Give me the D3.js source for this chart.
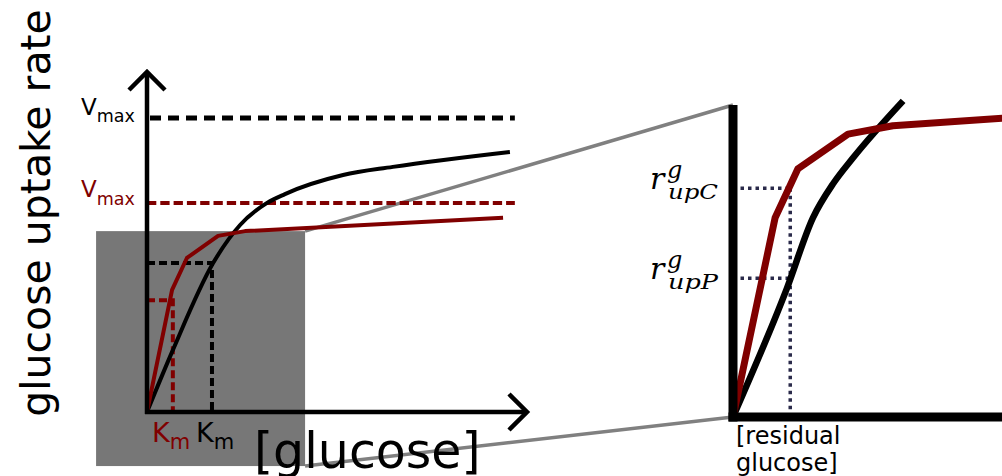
<!DOCTYPE html>
<html><head><meta charset="utf-8">
<script src="https://cdn.jsdelivr.net/npm/d3@7"></script>
<style>body{margin:0;background:#fff}svg{display:block}</style>
</head><body>
<svg id="c" width="1002" height="476"></svg>
<script>
// ---- Left panel (arbitrary units) ----
const leftBlackX = [0, 0.68, 1.74, 2.45, 3.16, 3.63, 5.16, 6.47, 9.55];
const leftBlackY = [0, 1.82, 4.38, 5.50, 6.15, 6.41, 6.97, 7.21, 7.65];
const leftRedX = [0, 0.66, 1.05, 1.87, 2.58, 9.37];
const leftRedY = [0, 3.59, 4.53, 5.18, 5.32, 5.71];
const vmaxValues = [8.65, 6.15];          // black, red
const vmaxEnd = 9.68;
const kmValues = [1.71, 0.68];            // black, red
const halfVmax = [4.38, 3.29];            // black, red
const zoomX = [-1.34, 4.16];
const zoomY = [-1.59, 5.32];
// ---- Right panel (zoom) ----
const rightBlackX = [0, 1.0, 1.48, 1.85, 2.22, 3.15];
const rightBlackY = [0, 2.48, 3.83, 4.48, 4.98, 6.08];
const rightRedX = [0, 0.78, 1.2, 2.13, 2.96, 5.05];
const rightRedY = [0, 3.83, 4.77, 5.44, 5.6, 5.75];
const residual = 1.06;
const rupValues = [4.40, 2.67];           // upC, upP
const rupLabels = ["upC", "upP"];

const RED = "#800000";
const svg = d3.select("#c");

const xL = d3.scaleLinear().domain([0, 10]).range([147, 527]);
const yL = d3.scaleLinear().domain([0, 10]).range([412, 72]);
const xR = d3.scaleLinear().domain([0, 5]).range([733, 1003]);
const yR = d3.scaleLinear().domain([0, 6]).range([417, 105]);

const lineL = d3.line().x(d => xL(d[0])).y(d => yL(d[1]));
const lineR = d3.line().x(d => xR(d[0])).y(d => yR(d[1]));
const smoothL = d3.line().x(d => xL(d[0])).y(d => yL(d[1])).curve(d3.curveMonotoneX);
const smoothR = d3.line().x(d => xR(d[0])).y(d => yR(d[1])).curve(d3.curveMonotoneX);

// zoom rectangle
svg.append("rect")
  .attr("x", xL(zoomX[0])).attr("y", yL(zoomY[1]))
  .attr("width", xL(zoomX[1]) - xL(zoomX[0]))
  .attr("height", yL(zoomY[0]) - yL(zoomY[1]))
  .attr("fill", "#777777");

// connector lines
svg.append("path")
  .attr("d", d3.line()([[xL(zoomX[1]), yL(zoomY[1])], [xR(0), yR(6)]]))
  .attr("stroke", "#808080").attr("stroke-width", 3.5).attr("fill", "none");
svg.append("path")
  .attr("d", d3.line()([[xL(zoomX[1]), yL(zoomY[0])], [xR(0), yR(0)]]))
  .attr("stroke", "#808080").attr("stroke-width", 3.5).attr("fill", "none");

// Vmax dashed lines
svg.append("line").attr("x1", xL(0) + 3).attr("x2", xL(vmaxEnd))
  .attr("y1", yL(vmaxValues[0])).attr("y2", yL(vmaxValues[0]))
  .attr("stroke", "#000").attr("stroke-width", 5).attr("stroke-dasharray", "11,7");
svg.append("line").attr("x1", xL(0)).attr("x2", xL(vmaxEnd))
  .attr("y1", yL(vmaxValues[1])).attr("y2", yL(vmaxValues[1]))
  .attr("stroke", RED).attr("stroke-width", 4).attr("stroke-dasharray", "9.3,4");

// Km dashed guides
[[kmValues[0], halfVmax[0], "#000"], [kmValues[1], halfVmax[1], RED]].forEach(([k, h, c]) => {
  svg.append("path")
    .attr("d", lineL([[0, h], [k, h], [k, 0]]))
    .attr("stroke", c).attr("stroke-width", 4).attr("fill", "none")
    .attr("stroke-dasharray", "8,4");
});

// left curves
svg.append("path").attr("d", smoothL(d3.zip(leftBlackX, leftBlackY)))
  .attr("stroke", "#000").attr("stroke-width", 4).attr("fill", "none").attr("stroke-linejoin", "round");
svg.append("path").attr("d", lineL(d3.zip(leftRedX, leftRedY)))
  .attr("stroke", RED).attr("stroke-width", 4).attr("fill", "none").attr("stroke-linejoin", "round");

// left axes with arrowheads
const ax = svg.append("g").attr("stroke", "#000").attr("stroke-width", 4.5).attr("fill", "none");
ax.append("line").attr("x1", xL(0)).attr("x2", xL(0)).attr("y1", yL(0) + 2).attr("y2", yL(10));
ax.append("line").attr("x1", xL(0) - 2).attr("x2", xL(10)).attr("y1", yL(0)).attr("y2", yL(0));
ax.append("path").attr("d", d3.line()([[xL(0) - 18, yL(10) + 18], [xL(0), yL(10)], [xL(0) + 18, yL(10) + 18]]));
ax.append("path").attr("d", d3.line()([[xL(10) - 18, yL(0) - 18], [xL(10), yL(0)], [xL(10) - 18, yL(0) + 18]]));

// left labels
const font = "DejaVu Sans, sans-serif";
function sub(x, y, main, s, color, fs, ss, dy) {
  const t = svg.append("text").attr("x", x).attr("y", y).attr("fill", color)
    .attr("font-family", font).attr("font-size", fs);
  t.append("tspan").text(main);
  t.append("tspan").attr("font-size", ss).attr("dy", dy).text(s);
  return t;
}
sub(81, yL(vmaxValues[0]) - 3, "V", "max", "#000", 23, 17.5, 7);
sub(81, yL(vmaxValues[1]) - 6, "V", "max", RED, 23, 17.5, 8);
sub(152, 442, "K", "m", RED, 27, 21, 7);
sub(196, 442, "K", "m", "#000", 27, 21, 7);

svg.append("text").attr("x", 254).attr("y", 468)
  .attr("font-family", font).attr("font-size", 49).attr("fill", "#000").text("[glucose]");
svg.append("text").attr("transform", "translate(50,213) rotate(-90)")
  .attr("text-anchor", "middle")
  .attr("font-family", font).attr("font-size", 41).attr("fill", "#000").text("glucose uptake rate");

// ---- right panel ----
const dots = svg.append("g").attr("stroke", "#2a2a4a").attr("stroke-width", 3.5)
  .attr("stroke-dasharray", "3.5,4").attr("fill", "none");
rupValues.forEach(v => {
  dots.append("path").attr("d", lineR([[0, v], [residual, v]]));
});
dots.append("path").attr("d", lineR([[residual, d3.max(rupValues)], [residual, 0]]));

svg.append("path").attr("d", smoothR(d3.zip(rightBlackX, rightBlackY)))
  .attr("stroke", "#000").attr("stroke-width", 6.5).attr("fill", "none").attr("stroke-linejoin", "round");
svg.append("path").attr("d", lineR(d3.zip(rightRedX, rightRedY)))
  .attr("stroke", RED).attr("stroke-width", 7).attr("fill", "none").attr("stroke-linejoin", "round");

const axR = svg.append("g").attr("stroke", "#000").attr("stroke-width", 9).attr("fill", "none");
axR.append("line").attr("x1", xR(0)).attr("x2", xR(0)).attr("y1", yR(0) + 4.5).attr("y2", yR(6));
axR.append("line").attr("x1", xR(0) - 4.5).attr("x2", 1010).attr("y1", yR(0)).attr("y2", yR(0));

// r labels (math style)
const serif = "DejaVu Serif, serif";
rupValues.forEach((v, i) => {
  const y = yR(v);
  svg.append("text").attr("x", 650).attr("y", y + 1)
    .attr("font-family", serif).attr("font-style", "italic").attr("font-size", 30).text("r");
  svg.append("text").attr("x", 667).attr("y", y - 10)
    .attr("font-family", serif).attr("font-style", "italic").attr("font-size", 24).text("g");
  svg.append("text").attr("x", 668).attr("y", y + 11)
    .attr("textLength", 50).attr("lengthAdjust", "spacingAndGlyphs")
    .attr("font-family", serif).attr("font-style", "italic").attr("font-size", 21).text(rupLabels[i]);
});

const rl = svg.append("text").attr("font-family", font).attr("font-size", 24).attr("fill", "#000");
rl.append("tspan").attr("x", 736).attr("y", 444).text("[residual");
rl.append("tspan").attr("x", 736).attr("y", 471).text("glucose]");
</script>
</body></html>
